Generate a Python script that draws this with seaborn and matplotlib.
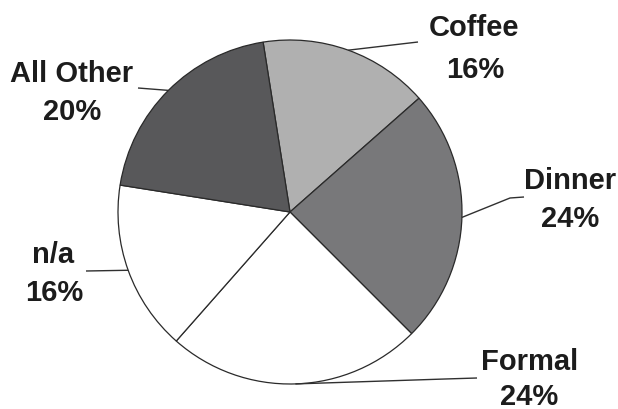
import numpy as np
import matplotlib
matplotlib.use("Agg")
import matplotlib.pyplot as plt
import seaborn as sns

# ---- data ----
categories = ["Coffee", "Dinner", "Formal", "n/a", "All Other"]
shares = [16, 24, 24, 16, 20]
pct_labels = ["16%", "24%", "24%", "16%", "20%"]
colors = ["#b0b0b0", "#78787a", "#ffffff", "#ffffff", "#58585a"]

# ---- layout (pixels, from top-left) ----
W, H = 618, 410
CX, CY, R = 290, 213, 172
start_angle = 99
# label name (center x, baseline y), pct (center x, baseline y), leader end, optional kink
name_pos = [(474, 36), (570, 189), (530, 370), (53, 263), (72, 82)]
pct_pos = [(475, 78), (570, 227), (529, 405), (54, 301), (72, 120)]
leader_end = [(418, 43), (524, 198), (477, 379), (86, 272), (138, 89)]
leader_kink = [None, (510, 199), (445, 380), None, None]

sns.set_theme(style="white")
plt.rcParams["font.family"] = ["Liberation Sans", "DejaVu Sans"]

fig = plt.figure(figsize=(W / 100, H / 100), dpi=100)
ax = fig.add_axes([0, 0, 1, 1])


def px(x, y):
    return ((x - CX) / R, (H - y - (H - CY)) / R)


wedges, _ = ax.pie(
    shares,
    colors=colors,
    startangle=start_angle,
    counterclock=False,
    radius=1.0,
    wedgeprops=dict(edgecolor="#2a2a2a", linewidth=0.9),
)
ax.set_aspect("auto")
ax.set_xlim((0 - CX) / R, (W - CX) / R)
ax.set_ylim(-(H - CY) / R, CY / R)
ax.axis("off")

for i, w in enumerate(wedges):
    mid = np.deg2rad((w.theta1 + w.theta2) / 2)
    sx, sy = np.cos(mid), np.sin(mid)
    pts = [(sx, sy)]
    if leader_kink[i] is not None:
        pts.append(px(*leader_kink[i]))
    pts.append(px(*leader_end[i]))
    xs, ys = zip(*pts)
    ax.plot(xs, ys, color="#303030", lw=1.0, solid_capstyle="butt")
    nx, ny = px(*name_pos[i])
    ax.text(nx, ny, categories[i], ha="center", va="baseline",
            fontsize=21, fontweight="bold", color="#1c1c1c")
    qx, qy = px(*pct_pos[i])
    ax.text(qx, qy, pct_labels[i], ha="center", va="baseline",
            fontsize=21, fontweight="bold", color="#1c1c1c")

fig.savefig("out.png", dpi=100, facecolor="white")
